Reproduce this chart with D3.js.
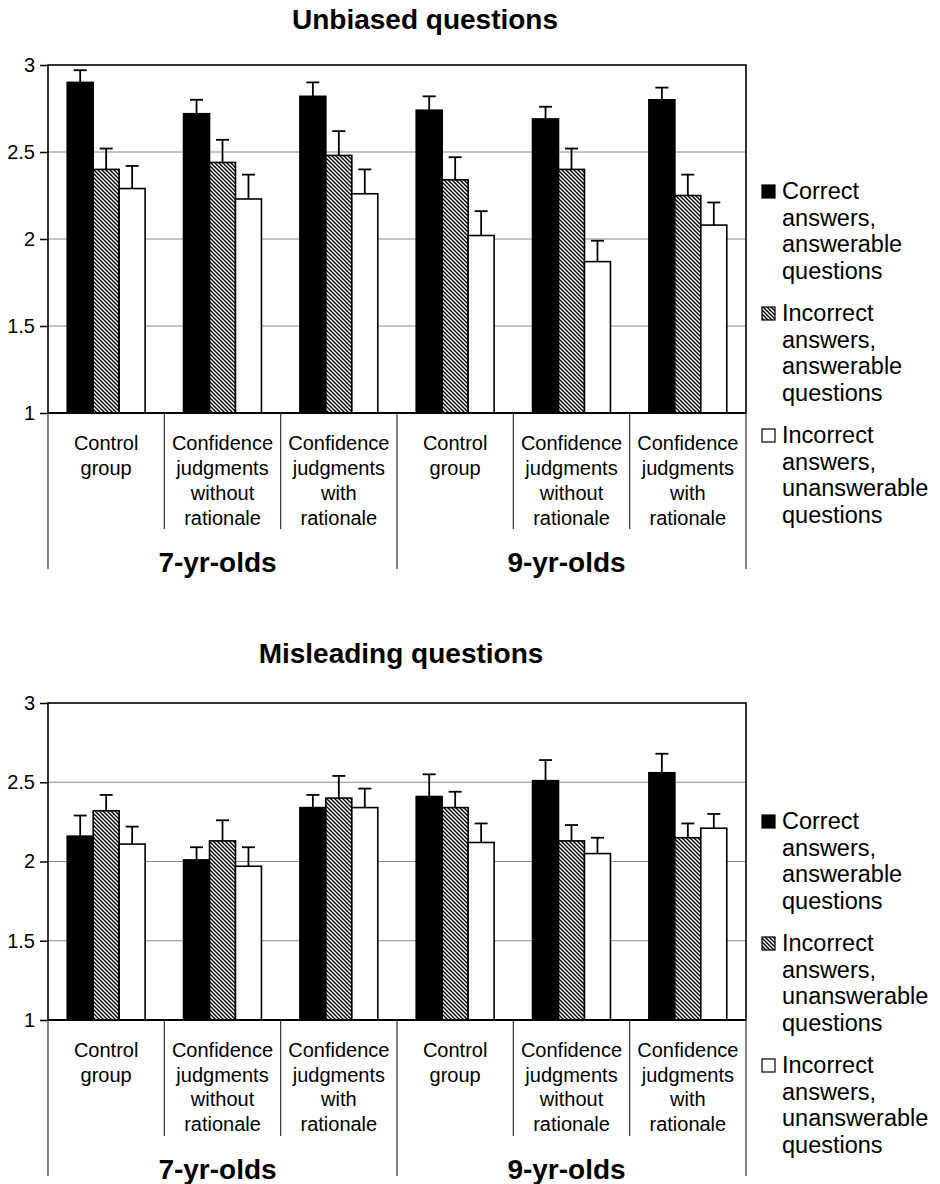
<!DOCTYPE html>
<html>
<head>
<meta charset="utf-8">
<script src="https://cdn.jsdelivr.net/npm/d3@7"></script>
<style>
  body { margin: 0; background: #fff; }
  svg text { font-family: "Liberation Sans", Arial, sans-serif; fill: #000; }
</style>
</head>
<body>
<div id="chart"></div>
<script>
// categories
const ageGroups = ["7-yr-olds", "9-yr-olds"];
const conditions = ["Control group", "Confidence judgments without rationale", "Confidence judgments with rationale"];
const yTicks = [1, 1.5, 2, 2.5, 3];

// unbiased questions: means and upper error (SE)
const unbiasedSeries = ["Correct answers, answerable questions", "Incorrect answers, answerable questions", "Incorrect answers, unanswerable questions"];
const unbiasedCorrect = [2.90, 2.72, 2.82, 2.74, 2.69, 2.80];
const unbiasedIncorrect = [2.40, 2.44, 2.48, 2.34, 2.40, 2.25];
const unbiasedUnanswerable = [2.29, 2.23, 2.26, 2.02, 1.87, 2.08];
const unbiasedCorrectErr = [0.07, 0.08, 0.08, 0.08, 0.07, 0.07];
const unbiasedIncorrectErr = [0.12, 0.13, 0.14, 0.13, 0.12, 0.12];
const unbiasedUnanswerableErr = [0.13, 0.14, 0.14, 0.14, 0.12, 0.13];

// misleading questions
const misleadingSeries = ["Correct answers, answerable questions", "Incorrect answers, unanswerable questions", "Incorrect answers, unanswerable questions"];
const misleadingCorrect = [2.16, 2.01, 2.34, 2.41, 2.51, 2.56];
const misleadingIncorrect = [2.32, 2.13, 2.40, 2.34, 2.13, 2.15];
const misleadingUnanswerable = [2.11, 1.97, 2.34, 2.12, 2.05, 2.21];
const misleadingCorrectErr = [0.13, 0.08, 0.08, 0.14, 0.13, 0.12];
const misleadingIncorrectErr = [0.10, 0.13, 0.14, 0.10, 0.10, 0.09];
const misleadingUnanswerableErr = [0.11, 0.12, 0.12, 0.12, 0.10, 0.09];

const width = 940, height = 1184;
const svg = d3.select('#chart').append('svg')
    .attr('width', width)
    .attr('height', height);

svg.append('rect').attr('width', width).attr('height', height).attr('fill', '#fff');

// diagonal hatch pattern
const defs = svg.append('defs');
const pat = defs.append('pattern')
    .attr('id', 'hatch')
    .attr('patternUnits', 'userSpaceOnUse')
    .attr('width', 4).attr('height', 4);
pat.append('rect').attr('width', 4).attr('height', 4).attr('fill', '#fff');
pat.append('path')
    .attr('d', 'M-1,-1L5,5M-1,3L1,5M3,-1L5,1')
    .attr('stroke', '#000')
    .attr('stroke-width', 1.4);

const fills = ['#000', 'url(#hatch)', '#fff'];
const categories = [];
ageGroups.forEach(a => conditions.forEach(c => categories.push({ age: a, cond: c })));

const left = 48, right = 746;

function drawChart(cfg) {
    const g = svg.append('g');
    const y = d3.scaleLinear().domain([1, 3]).range([cfg.bottom, cfg.top]);
    const x0 = d3.scaleBand().domain(d3.range(categories.length)).range([left, right]);
    const x1 = d3.scaleBand().domain([0, 1, 2]).range([0, x0.bandwidth()]).paddingOuter(0.74);

    // title
    g.append('text')
        .attr('x', cfg.titleX).attr('y', cfg.titleY)
        .attr('text-anchor', 'middle')
        .style('font-size', '28px').style('font-weight', 'bold')
        .text(cfg.title);

    // gridlines
    g.selectAll('.grid')
        .data(yTicks.filter(t => t > 1 && t < 3))
        .enter().append('line')
        .attr('x1', left).attr('x2', right)
        .attr('y1', d => y(d)).attr('y2', d => y(d))
        .attr('stroke', '#8a8a8a').attr('stroke-width', 1);

    // y axis
    const axis = g.append('g')
        .attr('transform', `translate(${left},0)`)
        .call(d3.axisLeft(y).tickValues(yTicks).tickSize(8).tickPadding(5).tickFormat(d3.format('')));
    axis.select('.domain').remove();
    axis.selectAll('.tick line').attr('stroke', '#000').attr('stroke-width', 1.5);
    axis.selectAll('.tick text').style('font-size', '20px').style('font-family', '"Liberation Sans", Arial, sans-serif');

    // bars
    const sets = cfg.values.map((vals, s) => vals.map((v, i) => ({ s, i, v, e: cfg.errors[s][i] })));
    sets.forEach(set => {
        const bg = g.append('g');
        bg.selectAll('rect').data(set).enter().append('rect')
            .attr('x', d => x0(d.i) + x1(d.s))
            .attr('y', d => y(d.v))
            .attr('width', x1.bandwidth())
            .attr('height', d => y(1) - y(d.v))
            .attr('fill', d => fills[d.s])
            .attr('stroke', '#000').attr('stroke-width', 1.6);
        // error bars
        bg.selectAll('line.err').data(set).enter().append('line')
            .attr('x1', d => x0(d.i) + x1(d.s) + x1.bandwidth() / 2)
            .attr('x2', d => x0(d.i) + x1(d.s) + x1.bandwidth() / 2)
            .attr('y1', d => y(d.v)).attr('y2', d => y(d.v + d.e))
            .attr('stroke', '#000').attr('stroke-width', 1.8);
        bg.selectAll('line.cap').data(set).enter().append('line')
            .attr('x1', d => x0(d.i) + x1(d.s) + x1.bandwidth() / 2 - 6.5)
            .attr('x2', d => x0(d.i) + x1(d.s) + x1.bandwidth() / 2 + 6.5)
            .attr('y1', d => y(d.v + d.e)).attr('y2', d => y(d.v + d.e))
            .attr('stroke', '#000').attr('stroke-width', 1.8);
    });

    // plot border
    g.append('rect')
        .attr('x', left).attr('y', cfg.top)
        .attr('width', right - left).attr('height', cfg.bottom - cfg.top)
        .attr('fill', 'none').attr('stroke', '#000').attr('stroke-width', 1.6);
    g.append('line')
        .attr('x1', left).attr('x2', right)
        .attr('y1', cfg.bottom).attr('y2', cfg.bottom)
        .attr('stroke', '#000').attr('stroke-width', 2);

    // category dividers
    d3.range(categories.length + 1).forEach(k => {
        const xx = k === categories.length ? right : x0(k);
        const isGroup = k % conditions.length === 0;
        g.append('line')
            .attr('x1', xx).attr('x2', xx)
            .attr('y1', cfg.bottom).attr('y2', cfg.bottom + (isGroup ? 156 : 116))
            .attr('stroke', '#333').attr('stroke-width', 1.2);
    });

    // category labels
    categories.forEach((c, i) => {
        const t = g.append('text')
            .attr('text-anchor', 'middle')
            .style('font-size', '20px');
        c.cond.split(' ').forEach((w, j) => {
            t.append('tspan')
                .attr('x', x0(i) + x0.bandwidth() / 2)
                .attr('y', cfg.bottom + 37 + j * cfg.lineGap)
                .text(w);
        });
    });

    // age group labels
    ageGroups.forEach((a, k) => {
        const x = (x0(k * 3) + (k * 3 + 3 === categories.length ? right : x0(k * 3 + 3))) / 2;
        g.append('text')
            .attr('x', x - 5).attr('y', cfg.bottom + 159)
            .attr('text-anchor', 'middle')
            .style('font-size', '28px').style('font-weight', 'bold')
            .text(a);
    });

    // legend
    cfg.series.forEach((name, s) => {
        const base = cfg.legendY + s * 122;
        g.append('rect')
            .attr('x', 762).attr('y', base - 14)
            .attr('width', 13).attr('height', 13)
            .attr('fill', fills[s]).attr('stroke', '#000').attr('stroke-width', 1.2);
        const t = g.append('text').style('font-size', '23.5px');
        name.split(' ').forEach((w, j) => {
            t.append('tspan').attr('x', 782).attr('y', base + j * 26.5).text(w);
        });
    });
}

drawChart({
    title: 'Unbiased questions', titleX: 425, titleY: 29,
    top: 65, bottom: 413, lineGap: 25, legendY: 199,
    series: unbiasedSeries,
    values: [unbiasedCorrect, unbiasedIncorrect, unbiasedUnanswerable],
    errors: [unbiasedCorrectErr, unbiasedIncorrectErr, unbiasedUnanswerableErr]
});

drawChart({
    title: 'Misleading questions', titleX: 401, titleY: 663,
    top: 703, bottom: 1020, lineGap: 24.5, legendY: 829,
    series: misleadingSeries,
    values: [misleadingCorrect, misleadingIncorrect, misleadingUnanswerable],
    errors: [misleadingCorrectErr, misleadingIncorrectErr, misleadingUnanswerableErr]
});
</script>
</body>
</html>
